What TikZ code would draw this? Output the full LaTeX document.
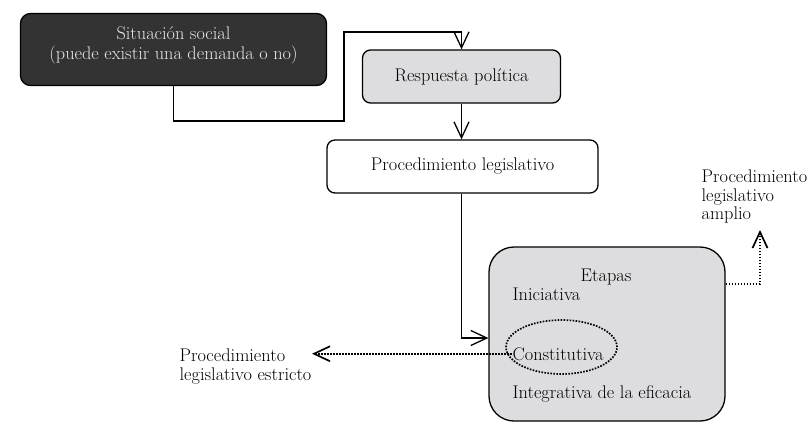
\documentclass[tikz,border=0pt]{standalone}
\usepackage{fontspec}
\usepackage{tikz}
\usetikzlibrary{arrows.meta}
\usetikzlibrary{shapes.geometric}
\usetikzlibrary{positioning}
\definecolor{Oscuro}{RGB}{51,51,51}
\definecolor{Claro}{RGB}{221,221,223}
\definecolor{Letra}{RGB}{232,232,232}
\tikzset{
  Caja/.style={draw,rounded corners=#1,inner sep=0pt}, % para las cajas
  Flecha/.style={-{Straight Barb[length=16pt,width=15pt]}}, % para flechas
  Punteada/.style={Flecha,line width=1.7pt,dash pattern=on 1.6pt off 1.4pt}, % flechas punteadas
  Texto/.style={inner sep=0pt,align=left} % textos sueltos
}

\begin{document}
\begin{tikzpicture}[%
x=1pt, y=-1pt,
line width=1.3pt,
font=\fontsize{18.3}{18.5}\selectfont
]
\useasboundingbox (0,0) rectangle (810,424);

%Cajas
\node[Caja=10pt, fill=Oscuro, minimum width=306pt, minimum height=72pt] (Sit) at (173.5,49.5) {};
\node[Texto, align=center, text=Letra] (SitT) at (173.5,45.5) {Situación social\\[1pt](puede existir una demanda o no)};

\node[Caja=8pt, fill=Claro, minimum width=198pt, minimum height=53pt] (Resp) at (461.5,76.5) {Respuesta política};
\node[Caja=8pt, fill=white, minimum width=271pt, minimum height=53pt] (Proc) at (462.5,166.5) {Procedimiento legislativo};
\node[Caja=25pt, fill=Claro, minimum width=236pt, minimum height=174pt] (Etapas) at (607,334) {};

%Etapas
\node[Texto, anchor=base] (EtapasT) at (606,281) {Etapas};
\node[Texto, anchor=base west] (Inic) at (512,300) {Iniciativa};
\node[Texto, anchor=base west] (Const) at (512,360) {Constitutiva};
\node[Texto, anchor=base west] (Integ) at (512,398) {Integrativa de la eficacia};
\node[ellipse, draw, line width=1.7pt, dash pattern=on 1.6pt off 1.4pt, minimum width=111pt, minimum height=54pt, inner sep=0pt] (Elipse) at (561.5,347) {};

%Textos de fuera
\node[Texto, anchor=north west] (Estricto) at (179,348.5) {Procedimiento\\legislativo estricto};
\node[Texto, anchor=north west] (Amplio) at (701,169.5) {Procedimiento\\legislativo\\amplio};

%Puntos de apoyo
\coordinate (Q1) at (344,121);
\coordinate (Q2) at (344,32);
\coordinate (QA) at (760,230);

%Flechas
\draw[Flecha] (Sit.south) |- (Q1) -- (Q2) -| (Resp.north);
\draw[Flecha] (Resp.south) -- (Proc.north -| Resp.south);
\draw[Flecha] (Proc.south -| Resp.south) |- ([yshift=-4pt]Etapas.west);
\draw[Punteada] (Const.west) -- (Const.west -| Estricto.east);
\draw[Punteada] ([yshift=50pt]Etapas.east) -| (QA);

\end{tikzpicture}
\end{document}
